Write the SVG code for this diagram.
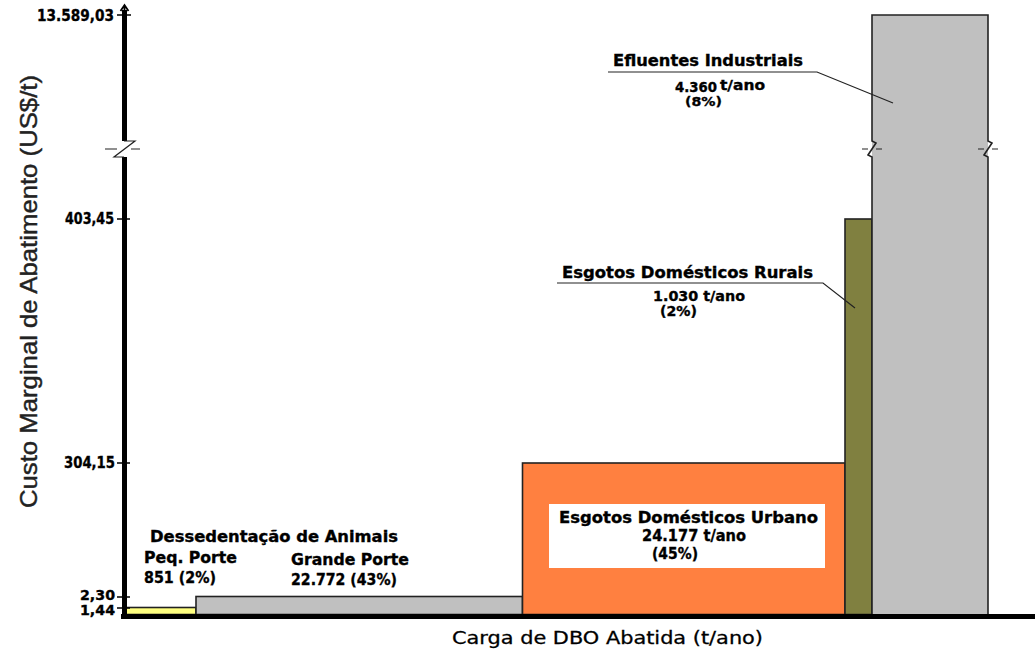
<svg xmlns="http://www.w3.org/2000/svg" width="1035" height="657" viewBox="0 0 1035 657">
  <style>
    .bar { stroke: #222; stroke-width: 1.6; }
    .lbl { font-family: "DejaVu Sans", Verdana, sans-serif; font-weight: bold; font-size: 15px; fill: #000; stroke: #000; stroke-width: 0.35; }
    .sm { font-size: 14px; }
    .xs { font-size: 13px; }
    .tick { stroke: #000; stroke-width: 1.6; }
    .thin { stroke: #222; stroke-width: 1.2; fill: none; }
    .axis { stroke: #000; stroke-width: 5; fill: none; }
  </style>
  <rect width="1035" height="657" fill="#fff"/>

  <!-- bars -->
  <g id="peq-porte">
    <rect class="bar" x="125" y="607.5" width="71" height="7" fill="#ffff80"/>
  </g>
  <g id="grande-porte">
    <rect class="bar" x="196" y="596.5" width="326.5" height="18" fill="#c0c0c0"/>
  </g>
  <g id="esgotos-urbano">
    <rect class="bar" x="522.5" y="463" width="322.5" height="151.5" fill="#ff8040"/>
    <rect x="549" y="504" width="276" height="64" fill="#fff"/>
    <text class="lbl" x="559" y="523" textLength="259" lengthAdjust="spacingAndGlyphs">Esgotos Domésticos Urbano</text>
    <text class="lbl" x="642" y="541" textLength="104" lengthAdjust="spacingAndGlyphs">24.177 t/ano</text>
    <text class="lbl" x="652" y="559" textLength="46" lengthAdjust="spacingAndGlyphs">(45%)</text>
  </g>
  <g id="esgotos-rurais">
    <rect class="bar" x="845" y="219" width="27" height="395.5" fill="#808040"/>
    <text class="lbl" x="562" y="278" textLength="251" lengthAdjust="spacingAndGlyphs">Esgotos Domésticos Rurais</text>
    <text class="lbl sm" x="653" y="301" textLength="92" lengthAdjust="spacingAndGlyphs">1.030 t/ano</text>
    <text class="lbl sm" x="660" y="316" textLength="37" lengthAdjust="spacingAndGlyphs">(2%)</text>
  </g>
  <g id="efluentes-industriais">
    <rect x="872" y="15" width="116" height="599.5" fill="#c0c0c0"/>
    <!-- outline with scale breaks on both sides -->
    <path class="bar" fill="none" d="M872,614.5 L872,157 L868,155 L876,143 L872,141 L872,15 L988,15 L988,141 L992,143 L984,155 L988,157 L988,614.5"/>
    <path class="thin" d="M862,149 H868 M876,149 H882 M978,149 H984 M992,149 H998"/>
    <text class="lbl" x="613" y="66" textLength="190" lengthAdjust="spacingAndGlyphs">Efluentes Industriais</text>
    <text class="lbl sm" x="675" y="92" textLength="42" lengthAdjust="spacingAndGlyphs">4.360</text>
    <text class="lbl sm" x="720" y="90" textLength="45" lengthAdjust="spacingAndGlyphs">t/ano</text>
    <text class="lbl xs" x="685" y="106" textLength="37" lengthAdjust="spacingAndGlyphs">(8%)</text>
  </g>
  <g id="dessedentacao">
    <text class="lbl" x="150" y="542" textLength="248" lengthAdjust="spacingAndGlyphs">Dessedentação de Animais</text>
    <text class="lbl" x="144" y="562.5" textLength="93" lengthAdjust="spacingAndGlyphs">Peq. Porte</text>
    <text class="lbl" x="144" y="583" textLength="72" lengthAdjust="spacingAndGlyphs">851 (2%)</text>
    <text class="lbl" x="291" y="564.5" textLength="118" lengthAdjust="spacingAndGlyphs">Grande Porte</text>
    <text class="lbl" x="291" y="584.5" textLength="106" lengthAdjust="spacingAndGlyphs">22.772 (43%)</text>
  </g>

  <!-- leader lines -->
  <g id="connectors">
    <polyline class="thin" points="557,283 823,283 855,308"/>
    <polyline class="thin" points="608,72 817,72 893,103"/>
  </g>

  <!-- axes -->
  <g id="axes">
    <line class="axis" x1="121" y1="616.5" x2="1035" y2="616.5"/>
    <line class="axis" x1="124.5" y1="619" x2="124.5" y2="157"/>
    <line class="axis" x1="124.5" y1="141" x2="124.5" y2="10"/>
    <!-- arrowhead at the top of the value axis -->
    <path d="M124.5,12 V5 M120.5,11 L124.5,5 L128.5,11" fill="none" stroke="#000" stroke-width="1.8"/>
    <!-- axis break -->
    <path class="thin" stroke="#000" stroke-width="1.5" d="M105,149 H117 M131,149 H140 M124,141 L135,141 L114,157 L124,157"/>
    <!-- ticks -->
    <path class="tick" d="M117,15 H131 M117,219 H130 M117,463 H130 M117,597 H130 M117,608 H130"/>
    <text class="lbl" x="114" y="21" text-anchor="end" textLength="77" lengthAdjust="spacingAndGlyphs">13.589,03</text>
    <text class="lbl" x="114" y="224" text-anchor="end" textLength="49" lengthAdjust="spacingAndGlyphs">403,45</text>
    <text class="lbl" x="115" y="468" text-anchor="end" textLength="51" lengthAdjust="spacingAndGlyphs">304,15</text>
    <text class="lbl sm" x="115" y="599.5" text-anchor="end" textLength="35" lengthAdjust="spacingAndGlyphs">2,30</text>
    <text class="lbl sm" x="115" y="615" text-anchor="end" textLength="35" lengthAdjust="spacingAndGlyphs">1,44</text>
    <text x="0" y="0" transform="translate(37,508) rotate(-90)" font-family="'Liberation Sans', Arial, sans-serif" font-size="24" fill="#222" stroke="#222" stroke-width="0.4" textLength="433" lengthAdjust="spacingAndGlyphs">Custo Marginal de Abatimento (US$/t)</text>
    <text x="452" y="644" font-family="'DejaVu Sans', Verdana, sans-serif" font-size="18" fill="#000" stroke="#000" stroke-width="0.3" textLength="311" lengthAdjust="spacingAndGlyphs">Carga de DBO Abatida (t/ano)</text>
  </g>
</svg>
